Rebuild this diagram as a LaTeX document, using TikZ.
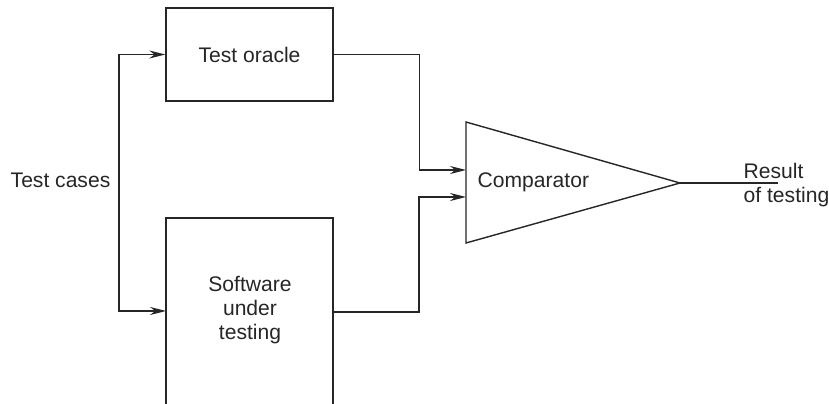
\documentclass[tikz,border=0pt]{standalone}
\usepackage{fontspec}
\setmainfont{Liberation Sans}
\usetikzlibrary{arrows.meta}
\begin{document}
\begin{tikzpicture}[x=0.03cm,y=-0.03cm,line width=1.2pt,color=black!85,
  font=\fontsize{18}{20.5}\selectfont,
  box/.style={draw,minimum width=5.01cm,minimum height=2.79cm,inner sep=0pt},
  feed/.style={-{Stealth[length=0.48cm,width=0.24cm]}}]
\useasboundingbox (0,0) rectangle (829,404);
\node[anchor=base west,inner sep=0pt] (cases) at (10,188) {Test cases};
\node[box] (oracle) at (249.5,54.5) {Test oracle};
\node[align=center,inner sep=0pt] (sut) at (250,310) {Software\\under\\testing};
\coordinate (sutbl) at (166,404);
\coordinate (sutbr) at (333,404);
\coordinate (sutin) at (166,311);
\coordinate (sutout) at (333,312);
\draw (sutbl) -- (166,218) -- (333,218) -- (sutbr);
\coordinate (split) at (119,185);
\draw[feed] (split) |- (oracle.west);
\draw[feed] (split) |- (sutin);
\coordinate (cmpa) at (466,122);
\coordinate (cmpb) at (466,243);
\coordinate (cmpc) at (680,183);
\draw (cmpa) -- (cmpc) -- (cmpb) -- cycle;
\node[anchor=base west,inner sep=0pt] (cmp) at (477,188) {Comparator};
\coordinate (cmpin1) at (466,170);
\coordinate (cmpin2) at (466,197);
\draw[feed] (oracle.east) -- ++(86,0) |- (cmpin1);
\draw[feed] (sutout) -- ++(86,0) |- (cmpin2);
\node[anchor=north west,align=left,inner sep=0pt] (result) at (743,163) {Result\\of testing};
\coordinate (resultend) at (778,183);
\draw (cmpc) -- (resultend);
\end{tikzpicture}
\end{document}
